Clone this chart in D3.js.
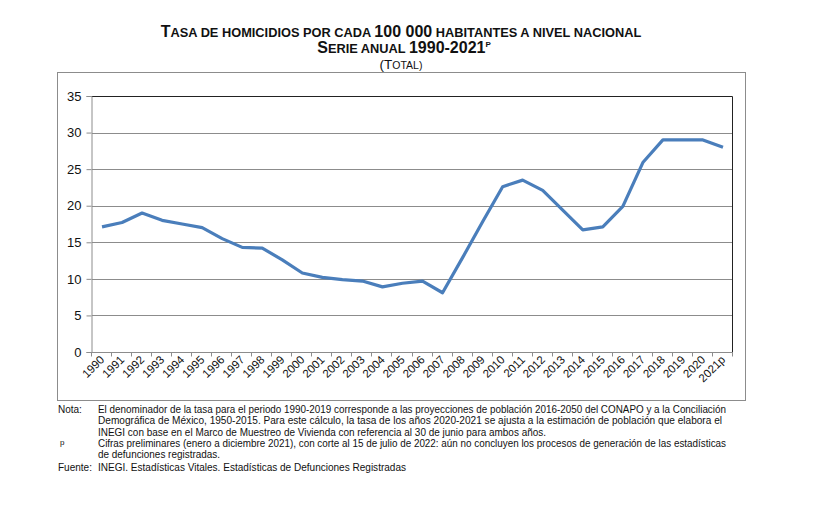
<!DOCTYPE html>
<html>
<head>
<meta charset="utf-8">
<script src="https://cdn.jsdelivr.net/npm/d3@7"></script>
<style>
  body { margin: 0; background: #fff; }
  svg { display: block; font-family: "Liberation Sans", Arial, sans-serif; }
</style>
</head>
<body>
<svg width="814" height="509"></svg>
<script>
// Tasa de homicidios por cada 100 000 habitantes, 1990-2021p
const years = ["1990","1991","1992","1993","1994","1995","1996","1997","1998","1999",
    "2000","2001","2002","2003","2004","2005","2006","2007","2008","2009",
    "2010","2011","2012","2013","2014","2015","2016","2017","2018","2019",
    "2020","2021p"];
const rates = [17.1, 17.7, 19.0, 18.0, 17.5, 17.0, 15.5, 14.3, 14.2, 12.6,
    10.8, 10.2, 9.9, 9.7, 8.9, 9.4, 9.7, 8.1, 12.9, 17.8,
    22.6, 23.5, 22.1, 19.4, 16.7, 17.1, 19.9, 25.9, 29.0, 29.0,
    29.0, 28.0];
const yTicks = [0, 5, 10, 15, 20, 25, 30, 35];

const notes = [
    {label: "Nota:", text: "El denominador de la tasa para el periodo 1990-2019 corresponde a las proyecciones de población 2016-2050 del CONAPO y a la Conciliación", w: 628},
    {label: "", text: "Demográfica de México, 1950-2015. Para este cálculo, la tasa de los años 2020-2021 se ajusta a la estimación de población que elabora el", w: 624},
    {label: "", text: "INEGI con base en el Marco de Muestreo de Vivienda con referencia al 30 de junio para ambos años.", w: 448},
    {label: "p", text: "Cifras preliminares (enero a diciembre 2021), con corte al 15 de julio de 2022: aún no concluyen los procesos de generación de las estadísticas", w: 628},
    {label: "", text: "de defunciones registradas.", w: 122},
    {label: "Fuente:", text: "INEGI. Estadísticas Vitales. Estadísticas de Defunciones Registradas", w: 308}
];

const svg = d3.select("svg");

// outer frame
svg.append("rect")
    .attr("x", 57.5).attr("y", 72.5)
    .attr("width", 688).attr("height", 328)
    .attr("fill", "none").attr("stroke", "#8c8c8c");

const plot = {left: 92, right: 733, top: 96, bottom: 352};

const x = d3.scaleBand().domain(years).range([plot.left, plot.right]);
const y = d3.scaleLinear().domain([0, 35]).range([plot.bottom, plot.top]);

// gridlines
svg.append("g")
    .selectAll("line")
    .data(yTicks.filter(d => d > 0 && d < 35))
    .join("line")
    .attr("x1", plot.left).attr("x2", plot.right)
    .attr("y1", d => Math.round(y(d)) + 0.5).attr("y2", d => Math.round(y(d)) + 0.5)
    .attr("stroke", "#8c8c8c");

// top and right border of plot
svg.append("path")
    .attr("d", `M${plot.left},${plot.top + 0.5}H${plot.right - 0.5}V${plot.bottom}`)
    .attr("fill", "none").attr("stroke", "#222");

// y axis
const yAxis = svg.append("g")
    .attr("transform", `translate(${plot.left - 0.5},0)`)
    .call(d3.axisLeft(y).tickValues(yTicks).tickSize(5).tickPadding(5));
yAxis.select(".domain").attr("stroke", "#8c8c8c");
yAxis.selectAll(".tick line").attr("stroke", "#8c8c8c");
yAxis.selectAll("text")
    .attr("font-size", 13).attr("fill", "#111")
    .attr("font-family", "Liberation Sans, Arial, sans-serif");

// x axis: ticks between categories
const xAxisG = svg.append("g")
    .attr("transform", `translate(0,${plot.bottom + 0.5})`);
xAxisG.append("line")
    .attr("x1", plot.left - 0.5).attr("x2", plot.right)
    .attr("stroke", "#8c8c8c");
xAxisG.selectAll(".tk")
    .data(years.concat(["end"]))
    .join("line")
    .attr("class", "tk")
    .attr("x1", (d, i) => Math.round(plot.left + i * x.step()) - 0.5)
    .attr("x2", (d, i) => Math.round(plot.left + i * x.step()) - 0.5)
    .attr("y1", 0).attr("y2", 4)
    .attr("stroke", "#8c8c8c");
xAxisG.selectAll(".lbl")
    .data(years)
    .join("text")
    .attr("class", "lbl")
    .attr("transform", d => `translate(${x(d) + x.bandwidth() / 2 + 3},${8}) rotate(-45)`)
    .attr("text-anchor", "end")
    .attr("font-size", 11.5)
    .attr("fill", "#111")
    .text(d => d);

// line
svg.append("path")
    .datum(rates)
    .attr("fill", "none")
    .attr("stroke", "#4a7ebb")
    .attr("stroke-width", 3.2)
    .attr("stroke-linejoin", "round")
    .attr("d", d3.line()
        .x((d, i) => x(years[i]) + x.bandwidth() / 2)
        .y(d => y(d)));

// title
const title = svg.append("g").attr("font-weight", "bold").attr("fill", "#111").attr("text-anchor", "middle");
const t1 = title.append("text").attr("x", 401).attr("y", 37);
t1.append("tspan").attr("font-size", 16).text("T");
t1.append("tspan").attr("font-size", 12.8).text("ASA DE HOMICIDIOS POR CADA ");
t1.append("tspan").attr("font-size", 16).text("100 000");
t1.append("tspan").attr("font-size", 12.8).text(" HABITANTES A NIVEL NACIONAL");

const t2 = title.append("text").attr("x", 404).attr("y", 53);
t2.append("tspan").attr("font-size", 16).text("S");
t2.append("tspan").attr("font-size", 12.8).text("ERIE ANUAL ");
t2.append("tspan").attr("font-size", 16).text("1990-2021");
t2.append("tspan").attr("font-size", 8).attr("dy", -6).text("P");

const t3 = svg.append("text").attr("x", 401).attr("y", 69)
    .attr("text-anchor", "middle").attr("fill", "#111");
t3.append("tspan").attr("font-size", 13.5).text("(T");
t3.append("tspan").attr("font-size", 10.5).text("OTAL)");

// notes
const noteG = svg.append("g").attr("font-size", 10).attr("fill", "#111");
noteG.selectAll(".nl")
    .data(notes)
    .join("text")
    .attr("class", "nl")
    .attr("x", (d) => d.label === "p" ? 60 : 58)
    .attr("y", (d, i) => 413 + i * 11.3 + (i === 5 ? 1.5 : 0))
    .attr("font-size", d => d.label === "p" ? 8 : 10)
    .attr("dy", d => d.label === "p" ? -2 : 0)
    .text(d => d.label);
noteG.selectAll(".nt")
    .data(notes)
    .join("text")
    .attr("class", "nt")
    .attr("x", 98)
    .attr("y", (d, i) => 413 + i * 11.3 + (i === 5 ? 1.5 : 0))
    .attr("textLength", d => d.w)
    .attr("lengthAdjust", "spacingAndGlyphs")
    .text(d => d.text);
</script>
</body>
</html>
